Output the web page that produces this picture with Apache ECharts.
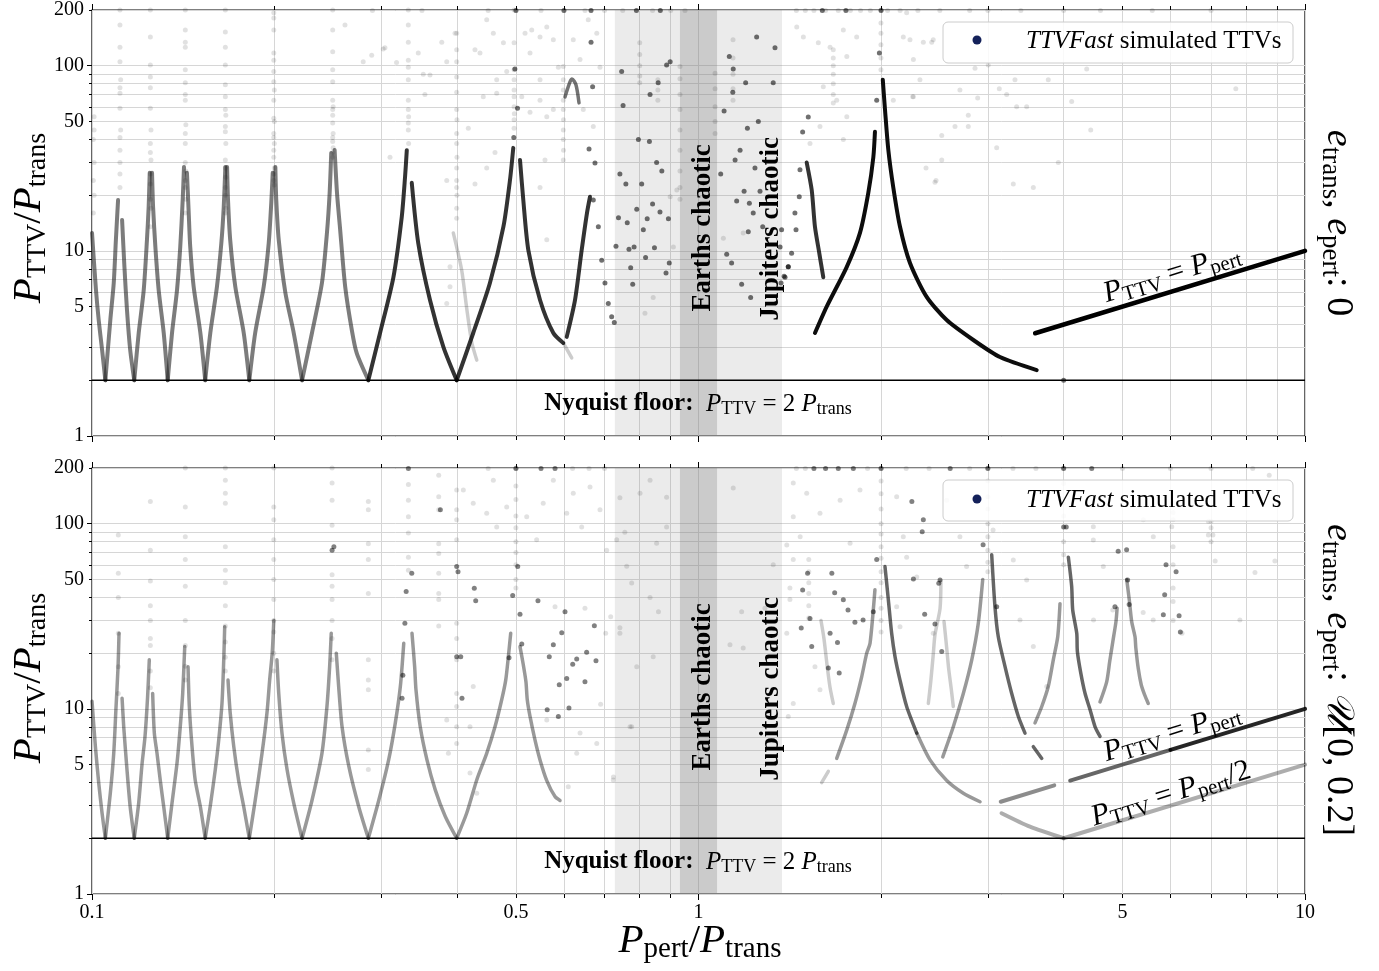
<!DOCTYPE html>
<html><head><meta charset="utf-8">
<script src="https://cdn.jsdelivr.net/npm/echarts@6/dist/echarts.min.js"></script>
<style>html,body{margin:0;padding:0;background:#fff}#c{width:1379px;height:971px}</style>
</head><body><div id="c"></div>
<script>
// ---------- axes ----------
const xTickValues = [0.1,0.2,0.3,0.4,0.5,0.6,0.7,0.8,0.9,1,2,3,4,5,6,7,8,9,10];
const xMajorTicks = [0.1,1,10];
const xLabelValues = [0.1,0.5,1,5,10];
const yTickValues = [1,2,3,4,5,6,7,8,9,10,20,30,40,50,60,70,80,90,100,200];
const yMajorTicks = [1,10,100];
const yLabelValues = [1,5,10,50,100,200];
const nyquistFloor = [[0.1,2],[10,2]];
const chaoticJupiters = [0.728,1.373];
const chaoticEarths = [0.932,1.073];

// ---------- top panel (e = 0) ----------
const topArmsGrey = [
 [[0.1,12.5],[0.1015,6.2],[0.1026,4.2],[0.1039,2.92],[0.1052,2]],
 [[0.1052,2],[0.1072,4.23],[0.1086,6.7],[0.1095,11.5],[0.1104,18.8]],
 [[0.1121,14.7],[0.1131,8.2],[0.1142,4.8],[0.1156,2.92],[0.1174,2]],
 [[0.1174,2],[0.1194,3.6],[0.1217,6.15],[0.1232,11.45],[0.124,17.3],[0.1245,26.4]],
 [[0.1256,26.4],[0.1261,17.3],[0.1272,10.5],[0.1288,6.15],[0.1313,3.6],[0.1333,2]],
 [[0.1333,2],[0.1355,3.6],[0.1381,6.15],[0.1398,10.5],[0.1411,18.8],[0.1418,28.4]],
 [[0.1434,26.4],[0.1443,16.6],[0.1452,10.5],[0.1471,6.4],[0.1509,3.6],[0.1537,2]],
 [[0.1537,2],[0.1567,3.6],[0.1607,6.4],[0.1634,11.0],[0.1649,17.3],[0.1659,28.4]],
 [[0.167,28.4],[0.1676,18.8],[0.169,11.45],[0.1723,6.4],[0.1779,3.6],[0.1817,2]],
 [[0.1817,2],[0.1858,3.6],[0.1919,6.4],[0.1956,11.0],[0.1975,18.1],[0.1986,26.4]],
 [[0.2006,28.4],[0.2013,18.8],[0.2032,11.45],[0.2084,5.92],[0.2151,3.6],[0.222,2]],
 [[0.222,2],[0.2305,3.6],[0.2394,6.7],[0.244,12.5],[0.2465,20.5],[0.248,33.8]],
 [[0.2512,35.1],[0.2535,20.5],[0.2563,13.5],[0.2615,6.4],[0.2683,3.7],[0.2732,2.8],[0.2855,2]]
];
const topArmsDark = [
 [[0.2855,2],[0.2985,3.6],[0.314,7.2],[0.3241,15.2],[0.3282,25],[0.3304,35]],
 [[0.3367,23.3],[0.3451,11.0],[0.3608,5.43],[0.3796,3.03],[0.3993,2]],
 [[0.3993,2],[0.4252,3.6],[0.453,6.7],[0.4768,13.5],[0.4889,24.2],[0.495,36]],
 [[0.5078,31],[0.5142,18.8],[0.5241,10.1],[0.5479,5.43],[0.5763,3.6],[0.5985,3.18]],
 [[0.6064,3.43],[0.6258,5.43],[0.6418,10.1],[0.6548,16],[0.6624,19.6]],
 [[1.508,30],[1.537,21.3],[1.556,13.5],[1.582,9.7],[1.606,7.2]]
];
const topArch = [[0.6024,67.9],[0.6139,81.7],[0.6186,84.9],[0.6281,78.7],[0.6353,63]];
const topArmsPale = [
 [[0.3942,12.5],[0.4069,7.88],[0.4147,4.92],[0.4227,3.22],[0.4309,2.57]],
 [[0.5985,3.18],[0.618,2.64]]
];
const topArmsBlack = [
 [[1.556,3.6],[1.627,5.0],[1.756,8.2],[1.846,12.5],[1.905,20.5],[1.942,32],[1.954,44]],
 [[2.013,84],[2.03,58],[2.056,35],[2.095,22],[2.149,13.5],[2.232,8.6],[2.378,5.64],[2.566,4.23],[2.839,3.3],[3.141,2.67],[3.611,2.27]]
];
const topPertLine = [[3.59,3.59],[10,10]];
const topDark = [
 [0.747,93],[0.751,61],[0.796,40],[0.830,39],[0.742,26],[0.759,23],[0.806,23],[0.853,30],[0.870,27],[0.791,16.8],[0.840,17.9],[0.864,16.2],[0.738,15.1],[0.763,14.2],[0.823,14.9],[0.811,13.0],[0.892,14.9],[0.731,10.6],[0.768,10.2],[0.783,10.5],[0.846,10.4],[0.818,9.2],[0.773,8.1],[0.895,8.6],[0.884,7.6],[0.779,6.6],[0.886,101],[0.898,105],[0.832,70],[0.858,81],
 [1.247,143],[1.337,125],[1.124,112],[1.141,96],[1.196,81],[1.328,81],[1.139,72],[1.102,57],[1.255,50],[1.204,46],[1.171,35],[1.149,31],[1.239,28],[1.088,26],[1.189,21],[1.263,21],[1.156,18.6],[1.213,18.1],[1.231,16],[1.276,13.5],[1.208,12.7],[1.113,9.6],[1.134,8.6],[1.178,6.6],[1.219,5.6],[1.371,13],[1.363,10.5],[1.406,8.2],[1.384,7.3],[1.368,6.7],
 [0.665,134],[0.669,77],[0.660,35.5],[0.675,29.8],[0.498,96],[0.503,59],[0.496,41],
 [1.517,52.9],[1.485,43.9],[1.470,27.4],[1.466,19.6],[1.442,16.0],[1.448,13.0],[1.424,9.7],[1.406,8.2],[1.389,7.2],[1.967,65],[1.987,117],
 [0.6707,18.8],[0.6837,13.5],[0.6925,8.9],[0.7011,6.7],[0.71,5.2],[0.7192,4.4],[0.7264,4.1],
 [4.0,2],[0.5,199],[0.6,199],[0.665,199],[1.6,199],[1.75,199],[2.0,199],[0.79,199],[0.865,199]
];
const topFaint = [
 [0.1008,53],[0.1008,45],[0.1005,40],[0.1008,30],[0.1005,24],[0.1008,20],[0.1005,16],
 [0.1112,200],[0.1112,166],[0.1112,126],[0.1112,105],[0.1115,84],[0.1112,76],[0.1112,71],[0.1112,59],[0.1115,45],[0.1112,41],[0.1112,35],[0.1112,30],[0.1112,26],[0.1112,22],
 [0.1248,200],[0.1248,143],[0.1248,101],[0.1248,87],[0.1248,76],[0.1248,59],[0.1251,45],[0.1248,38],[0.1248,34],[0.1251,31],[0.1248,26],[0.1248,23],[0.1248,19],[0.1251,17],[0.1248,13.5],
 [0.1425,200],[0.1425,156],[0.1425,134],[0.1425,126],[0.1425,95],[0.1425,81],[0.1425,70],[0.1425,65],[0.1428,48],[0.1425,43],[0.1425,38],[0.1425,30],[0.1428,27],[0.1425,24],[0.1425,22],[0.1428,19],[0.1425,16],
 [0.1659,200],[0.1659,152],[0.1659,126],[0.1659,101],[0.1659,79],[0.1659,68],[0.1659,58],[0.1662,54],[0.1659,47],[0.1659,44],[0.1662,38],[0.1659,31],[0.1659,28],[0.1662,25],[0.1659,22],[0.1659,20],[0.1662,17],[0.1659,16],
 [0.1994,193],[0.1994,181],[0.1994,156],[0.1994,117],[0.1994,107],[0.1994,93],[0.1994,82],[0.1998,74],[0.1994,65],[0.1994,52],[0.1998,50],[0.1994,43],[0.1994,41],[0.1998,38],[0.1994,35],[0.1994,32],[0.1998,28],[0.1994,26],[0.1994,24],[0.1998,22.7],
 [0.2494,200],[0.2494,156],[0.2494,119],[0.2494,95],[0.2494,82],[0.2494,65],[0.2498,60],[0.2494,58],[0.2494,54],[0.2494,49],[0.2498,43],[0.2494,41],[0.2494,39],[0.2498,36],[0.2494,34],[0.2494,32],
 [0.3323,200],[0.3323,166],[0.3323,134],[0.3323,107],[0.3323,98],[0.3323,84],[0.3323,65],[0.3323,58],[0.3327,53],[0.3323,49],[0.3323,45],[0.3327,38],
 [0.3993,150],[0.3993,122],[0.3993,105],[0.3993,87],[0.3993,72],[0.3993,58],[0.3997,51],[0.3993,43],[0.3993,38],[0.3997,32],[0.3993,28],[0.3993,24],[0.3993,22],[0.3997,20],[0.3993,17],[0.3993,15],
 [0.4965,200],[0.4965,133],[0.4965,95],[0.4965,84],[0.4965,74],[0.4965,68],[0.4965,60],[0.497,55],[0.4965,51],[0.4965,46],
 [0.5985,99],[0.5985,84],[0.5985,74],[0.5985,65],[0.5985,58],[0.599,51],[0.5985,45],[0.5985,40],[0.599,35],[0.5985,31],
 [1.999,200],[1.999,170],[1.999,150],[1.999,130],[1.999,110],[1.999,95],
 [1.668,122],[1.668,110],[1.668,100],[1.668,90],[1.668,80],[1.668,70],[1.668,63],
 [0.80,133],[0.80,115],[0.80,100],[0.80,88],[0.80,81],[0.857,84],[0.857,74],[0.857,65],[0.932,99],[0.932,85],[0.932,70],[0.932,58],[0.932,45],[0.932,35],[0.932,27],[0.932,22],[0.932,19],[1.065,91],[1.065,75],[1.065,60],[1.065,50],[1.065,43],[1.14,138],[1.14,110],[1.14,90],[1.14,75],[1.14,65],
 [0.842,5.6],[0.816,4.6],[0.909,10.5],[0.898,19.6],[0.921,21.3],[1.099,11.7],[1.185,12.5],
 [0.2613,166],[0.2892,114],[0.3021,123],[0.3178,104],[0.3451,117],[0.3517,90],[0.3608,89],[0.3539,70],[0.3773,134],[0.3845,105],[0.3968,150],[0.4173,46],[0.428,122],[0.4362,117],[0.4475,177],[0.4589,150],[0.4648,84],[0.4417,68],[0.4768,133],[0.4828,93],[0.5176,150],[0.5309,156],[0.5275,117],[0.5479,143],[0.5479,84],[0.5621,162],[0.5763,138],[0.5874,98],[0.5112,68],[0.5275,56],[0.5479,65],[0.5621,53],[0.5763,58],[0.6216,138],[0.6378,108],[0.658,177],[0.6796,150],[0.688,98],[0.6707,47],[0.6457,58],[0.5583,31],[0.5479,22],[0.4618,34],[0.4475,28],[0.428,23],[0.4648,71],[0.5621,11.5],[0.3845,5.2],[0.3893,6.4],[0.31,32],[0.28,105],[0.3041,125],[0.3845,24],[0.3893,8.2],
 [1.452,162],[1.489,143],[1.576,133],[1.648,126],[1.733,156],[1.823,143],[1.756,112],[1.606,77],[1.69,65],[1.756,53],[1.586,47],[1.527,38],[1.733,40],[2.176,143],[2.261,108],[2.438,138],[2.318,84],[2.095,65],[2.261,68],[2.518,42],[2.698,74],[2.648,47],[2.785,54],[2.857,97],[3.102,36],[3.222,70],[3.325,84],[3.346,60],[3.476,60],[3.304,23],[3.565,22],[2.518,31],[2.454,23.5],[2.204,193],[2.255,68],[2.372,28],[2.464,24],[3.92,30],[4.433,45],[4.124,64],[4.366,96],[7.69,75],[3.773,84],[2.886,67],[3.133,75],[3.004,101],[2.232,138],[2.348,134],[2.424,134],[2.785,47],
 [1.45,199],[1.5,199],[1.55,199],[1.62,199],[1.7,199],[1.78,199],[1.85,199],[1.92,199],[2.05,199],[2.15,199],[2.3,199],[2.5,199],[2.8,199],[3.0,199],[3.4,199],[4.0,199],[4.6,199],[5.6,199],[7,199],[0.55,199],[0.65,199],[0.7,199],[0.75,199],[0.84,199],[0.9,199],[0.95,199],[0.45,199],[0.35,199],[0.29,199]
];

// ---------- bottom panel (e ~ U[0,0.2]) ----------
const botArmsGrey = [
 [[0.1,11],[0.1013,6.25],[0.1026,3.96],[0.1039,2.73],[0.1052,2]],
 [[0.1052,2],[0.1072,3.5],[0.1086,5.75],[0.1095,9.9],[0.1104,16.9],[0.1108,25.6]],
 [[0.1121,11.4],[0.1128,8.0],[0.1142,4.7],[0.1156,2.96],[0.1174,2]],
 [[0.1174,2],[0.1194,3.1],[0.1209,5.0],[0.1223,7.1],[0.1235,11.6],[0.1243,18.4]],
 [[0.1259,12.1],[0.1267,7.4],[0.128,5.75],[0.1296,4.1],[0.1313,2.96],[0.1333,2]],
 [[0.1333,2],[0.1355,3.1],[0.1381,5.1],[0.1398,8.0],[0.1411,12.1],[0.1422,21.7]],
 [[0.144,16.9],[0.1447,10.3],[0.1462,6.25],[0.148,4.1],[0.1509,2.96],[0.1537,2]],
 [[0.1537,2],[0.1567,3.0],[0.1597,4.7],[0.1618,6.8],[0.1638,10.7],[0.1649,18.4],[0.1655,27.8]],
 [[0.1676,14.3],[0.169,9.5],[0.1713,6.25],[0.1745,4.1],[0.1779,2.96],[0.1817,2]],
 [[0.1817,2],[0.1858,3.2],[0.1907,5.75],[0.1943,9.5],[0.1963,14.3],[0.1982,20],[0.1994,30]],
 [[0.2018,18.4],[0.2032,12.1],[0.2057,7.4],[0.2097,4.7],[0.2151,3.1],[0.222,2]],
 [[0.222,2],[0.2305,3.2],[0.2394,5.75],[0.244,10.3],[0.2465,16.9],[0.248,25.6]],
 [[0.2528,20],[0.2551,13.2],[0.2584,8.0],[0.2651,4.9],[0.2753,2.96],[0.2855,2]],
 [[0.2855,2],[0.297,3.2],[0.3084,5.3],[0.3163,8.4],[0.3224,13.2],[0.3266,22.6]],
 [[0.337,25.6],[0.3404,16.9],[0.3421,12.7],[0.3477,8.0],[0.3567,5.3],[0.3681,3.65],[0.3824,2.62],[0.3993,2]],
 [[0.3993,2],[0.4147,2.73],[0.4309,4.13],[0.4475,5.75],[0.4618,8.0],[0.4737,11.2],[0.481,14.3],[0.4858,19.1],[0.4902,25.6]],
 [[0.5078,21.7],[0.5142,17.3],[0.5194,14.0],[0.522,11.2],[0.5275,9.1],[0.5375,6.8],[0.5479,5.3],[0.5621,4.1],[0.58,3.36],[0.5911,3.2]],
 [[1.69,5.4],[1.756,7.7],[1.811,10.7],[1.858,14.9],[1.894,20],[1.918,22.6],[1.954,44]],
 [[2.29,7.4],[2.408,5.3],[2.566,4.1],[2.733,3.5],[2.912,3.15]],
 [[2.528,5.5],[2.631,8.0],[2.733,12.1],[2.822,18.4],[2.893,29],[2.942,50]],
 [[3.588,8.4],[3.681,10.3],[3.773,13.2],[3.846,18.4],[3.911,24.5],[3.945,37]],
 [[4.592,10.9],[4.71,14],[4.764,18],[4.82,23],[4.879,29.6],[4.9,35]],
 [[5.082,50],[5.132,38.8],[5.179,29.6],[5.245,24.5],[5.26,21.5],[5.31,16.5],[5.37,13.5],[5.44,11.9],[5.515,10.7]]
];
const botArmsDark = [
 [[2.03,58.7],[2.056,38.8],[2.082,25.6],[2.109,19.1],[2.149,14.3],[2.204,10.3],[2.29,7.4]],
 [[3.044,68],[3.082,35.6],[3.121,24.5],[3.202,16.9],[3.284,12.1],[3.368,9.1],[3.454,7.4]],
 [[3.565,6.25],[3.681,5.4]],
 [[4.072,66],[4.124,45.7],[4.14,34.2],[4.204,25.6],[4.214,20.4],[4.269,15.6],[4.339,12.1],[4.422,9.9],[4.507,8.0],[4.592,7.1]]
];
const botArmsPale = [
 [[1.596,4.0],[1.637,4.6]],
 [[2.393,10.7],[2.415,14],[2.438,19.6],[2.454,25.1],[2.502,34.9],[2.51,48.7]],
 [[2.54,29.6],[2.566,21.3],[2.585,16.5],[2.61,12.9],[2.631,10.3]],
 [[1.592,30],[1.61,24],[1.63,17],[1.648,13],[1.668,10.7]]
];
const botPertLineLow = [[3.15,3.15],[3.86,3.86]];
const botPertLineMid = [[4.1,4.1],[6,6]];
const botPertLineHigh = [[6,6],[10,10]];
const botHalfPertLine = [[4,2],[10,5]];
const botHalfPertLow = [[3.16,2.73],[3.52,2.31],[4,2]];
const botDark = [
 [0.3993,58.7],[0.4013,55],[0.3993,19.1],[0.4055,19.1],[0.4269,44.8],[0.4292,38.4],[0.4939,40.9],[0.5034,58.7],[0.5078,32.4],[0.5112,22.4],[0.4871,18.9],[0.5436,38.4],[0.5763,22.2],[0.5675,19.1],[0.595,25.8],[0.6024,33.5],[0.6498,14.0],[0.5874,9.1],[0.563,9.9],[0.6115,10.1],[0.6734,28.1],
 [0.5894,13.5],[0.6064,14.6],[0.6203,17.4],[0.6298,18.6],[0.654,20.2],[0.6776,18.2],
 [0.2488,72],[0.2505,75],[0.3324,199],[0.3753,119],[0.4074,11.4],
 [0.3245,11.4],[0.3255,15.2],[0.328,29],[0.3296,43],[0.3367,54],
 [1.967,64],[1.942,33.5],[1.868,30.2],[1.811,29.4],[1.764,34.2],[1.733,38.8],[1.677,42.4],[1.648,25.6],[1.695,22.8],[1.527,30.8],[1.477,27.3],[1.537,21.7],[1.637,16.6],[1.706,15.6],[1.659,54],[1.513,54],[1.485,43.9],[2.248,132],[2.348,105],[2.338,90.6],[2.261,50.3],[2.502,49.7],[2.36,32.4],[2.454,28.7],[2.518,20.4],[2.946,76.9],[3.102,35.6],[4.0,96],[4.04,96],[5.13,36.6],[5.1,49.7],[4.92,71],[5.08,72.3],[4.86,35.6],[5.84,32.2],[5.87,41.4],[5.9,60],[6.13,55],[6.2,31.8],[6.23,26],[2.49,47.7],
 [0.5,199],[0.55,199],[0.58,199],[1.55,199],[1.62,199],[1.7,199],[1.8,199],[2.0,199],[2.6,199],[3.0,199],[4.0,199],[4.45,199]
];
const botFaint = [
 [0.1105,87],[0.1105,54],[0.1105,40],[0.1105,25.6],[0.1105,16.9],[0.1105,12.1],
 [0.1248,132],[0.1248,72],[0.1248,49],[0.1248,36],[0.1248,30],[0.1248,24],[0.1248,22],[0.1248,16],[0.1248,13],
 [0.1425,200],[0.1425,123],[0.1425,85],[0.1425,64],[0.1425,46],[0.1425,30],[0.1425,22],[0.1425,17],[0.1425,14.3],
 [0.1659,200],[0.1659,172],[0.1659,146],[0.1659,129],[0.1659,75],[0.1659,56],[0.1659,48],[0.1659,36],[0.1659,28],[0.1659,23],[0.1659,19],[0.1659,16],
 [0.1994,200],[0.1994,123],[0.1994,105],[0.1994,82],[0.1994,64],[0.1994,50],[0.1994,39],[0.1994,30],[0.1994,26],[0.1994,20],[0.1994,16],
 [0.2488,200],[0.2488,166],[0.2488,134],[0.2488,98],[0.2488,53],[0.2488,46],[0.2488,39],[0.2488,30],[0.2488,24],[0.2488,18.4],
 [0.2855,132],[0.2855,119],[0.2855,78],[0.2855,64],[0.2855,42],[0.2855,18.4],[0.2855,14.3],[0.2855,12.7],[0.2855,6.0],[0.2855,4.7],
 [0.3324,163],[0.3324,134],[0.3324,109],[0.3324,89],[0.3324,66],[0.3324,56],
 [0.373,183],[0.373,140],[0.373,119],[0.373,78],[0.373,69],[0.373,54],[0.373,42],[0.373,39],[0.373,28],
 [0.3993,152],[0.3993,119],[0.3993,105],[0.3993,82],[0.3993,29],[0.3993,24],[0.3993,18.4],[0.3993,12.1],[0.3993,10.3],[0.3993,8],[0.3993,6.5],
 [0.5,200],[0.5,160],[0.5,135],[0.5,110],[0.5,95],[0.5,80],[0.5,70],[0.5,60],[0.5,50],[0.5,45],
 [2.0,200],[2.0,170],[2.0,145],[2.0,120],[2.0,100],[2.0,88],[2.0,75],[2.0,65],[2.0,55],[2.0,48],[2.0,40],[2.0,35],[2.0,30],[2.0,26],
 [1.52,64],[1.52,55],[1.52,48],[1.52,42],[1.52,36],[1.52,31],
 [3.0,200],[3.0,170],[3.0,140],[3.0,120],[3.0,100],[3.0,85],[3.0,72],[3.0,62],[3.0,55],
 [4.0,200],[4.0,165],[4.0,130],[4.0,110],[4.0,80],[4.0,68],[4.0,60],
 [7.0,103],[7.0,95],[7.05,87],[7.0,80],
 [6.06,130],[6.06,115],[6.06,105],[6.06,75],[6.06,60],[6.06,45],[6.06,38],[6.06,30],
 [0.4095,152],[0.4252,129],[0.4475,114],[0.4589,172],[0.4648,96],[0.4828,123],[0.5209,109],[0.5409,82],[0.5546,129],[0.5763,172],[0.6064,114],[0.6216,146],[0.6418,96],[0.6624,158],[0.688,119],[0.7057,72],[0.7329,82],[0.7614,59],[0.8009,146],[0.853,78.5],[0.886,96],[0.832,40],[0.791,16.9],[0.7711,8.0],[0.7236,4.13],[0.742,25.6],[0.6796,6.5],[0.6298,5.75],[0.6099,3.8],[0.6378,7.4],[0.5621,8.7],[0.4309,3.5],[0.3845,8.7],[0.3869,5.75],[0.42,4.5],[0.4252,13.2],[0.42,8.0],[0.58,35.6],[0.6498,34.9],[0.7165,31.4],[0.703,25.6],[0.6897,10.6],
 [0.742,138],[0.756,90],[0.776,47.9],[0.832,172],[0.886,139],[0.859,33.5],[0.842,19.1],[0.776,8.0],[0.724,4.29],[0.742,27.4],[1.398,76.8],[1.433,109],[1.415,45],[1.141,156],[1.127,22.2],[1.185,21.3],[1.178,33.5],[1.328,60],[1.287,35],
 [1.433,166],[1.508,146],[1.586,114],[1.712,134],[1.778,78.5],[1.846,152],[1.471,85],[1.433,64],[1.415,39],[1.398,25.6],[1.433,10.7],[1.406,9.1],[1.586,12.7],[1.556,16.9],[2.122,140],[2.176,85],[2.204,66],[2.29,51.5],[2.122,35.6],[2.149,27.8],[2.438,25.6],[2.566,134],[2.698,85],[2.767,58.7],[3.06,92.6],[3.304,63.7],[3.476,49.7],[3.389,30.2],[3.565,21.7],[3.751,13.2],[4.477,96.3],[4.477,81.7],[4.65,58.7],[5.412,105],[5.622,85],[6.03,96.3],[6.27,25.6],[5.62,30.2],[5.41,33.2],[4.48,30.2],[4.82,34.2],[7.81,30.2],[8.92,63],[8.27,54.6],[7.11,63],[6.93,87],[6.93,103],[8.73,183],
 [0.45,199],[0.62,199],[0.66,199],[0.7,199],[1.45,199],[1.5,199],[1.9,199],[2.2,199],[2.4,199],[2.8,199],[3.3,199],[3.6,199],[5.0,199],[6.0,199],[7.0,199],[8.2,199]
];

// ---------- build ----------
const FF = "'Liberation Serif','DejaVu Serif',serif";
const GRID_X = 92, GRID_W = 1213, GRID_H = 426, TOPS = [10, 468];
const fmt = v => String(parseFloat((+v).toPrecision(6)));

function xAxesFor(g, labels) {
  const base = {type:'log', logBase:10, gridIndex:g, min:0.1, max:10, axisLine:{show:false}, splitLine:{show:false}, axisLabel:{show:false}};
  return [
    Object.assign({}, base, {position:'bottom', axisTick:{show:true, customValues:xTickValues, length:4, lineStyle:{color:'#000', width:1}},
      splitLine:{show:true, lineStyle:{color:'#d6d6d6', width:1}},
      axisLabel:{show:labels, customValues:xLabelValues, margin:9, color:'#000', fontFamily:FF, fontSize:20, formatter:fmt}}),
    Object.assign({}, base, {position:'bottom', axisTick:{show:true, customValues:xMajorTicks, length:6, lineStyle:{color:'#000', width:1}}}),
    Object.assign({}, base, {position:'top', axisTick:{show:true, customValues:xTickValues, length:4, lineStyle:{color:'#000', width:1}}}),
    Object.assign({}, base, {position:'top', axisTick:{show:true, customValues:xMajorTicks, length:6, lineStyle:{color:'#000', width:1}}})
  ];
}
function yAxesFor(g) {
  const base = {type:'log', logBase:10, gridIndex:g, min:1, max:200, position:'left', axisLine:{show:false}, splitLine:{show:false}, axisLabel:{show:false}};
  return [
    Object.assign({}, base, {axisTick:{show:true, customValues:yTickValues, length:3, lineStyle:{color:'#000'}},
      splitLine:{show:true, lineStyle:{color:'#d6d6d6', width:1}},
      axisLabel:{show:true, customValues:yLabelValues, margin:8, color:'#000', fontFamily:FF, fontSize:20, formatter:fmt}}),
    Object.assign({}, base, {axisTick:{show:true, customValues:yMajorTicks, length:5, lineStyle:{color:'#000'}}})
  ];
}

const series = [];
function armSeries(arms, color, width, xi, yi, z) {
  arms.forEach(a => series.push({type:'line', xAxisIndex:xi, yAxisIndex:yi, data:a, smooth:0.25,
    symbol:'none', silent:true, z:z, lineStyle:{color:color, width:width, cap:'round', join:'round'}}));
}
function dots(data, color, xi, yi, z, size) {
  series.push({type:'scatter', xAxisIndex:xi, yAxisIndex:yi, data:data, symbolSize:size||5, silent:true, z:z,
    itemStyle:{color:color}});
}
[0,1].forEach(p => {
  const xi = p*4, yi = p*2;
  series.push({type:'line', xAxisIndex:xi, yAxisIndex:yi, data:[], silent:true, z:1,
    markArea:{silent:true, data:[
      [{xAxis:chaoticJupiters[0], itemStyle:{color:'rgba(128,128,128,0.16)'}},{xAxis:chaoticJupiters[1]}],
      [{xAxis:chaoticEarths[0], itemStyle:{color:'rgba(128,128,128,0.3)'}},{xAxis:chaoticEarths[1]}]]}});
  series.push({type:'line', xAxisIndex:xi, yAxisIndex:yi, data:nyquistFloor, symbol:'none', silent:true, z:6,
    lineStyle:{color:'#000', width:1.6}});
});
// top
dots(topFaint, 'rgba(0,0,0,0.15)', 0, 0, 2);
armSeries(topArmsPale, 'rgba(0,0,0,0.2)', 3.5, 0, 0, 3);
armSeries(topArmsGrey, 'rgba(30,30,30,0.58)', 4, 0, 0, 3);
armSeries(topArmsDark, 'rgba(0,0,0,0.8)', 4, 0, 0, 3);
armSeries([topArch], 'rgba(0,0,0,0.55)', 3.5, 0, 0, 3);
armSeries(topArmsBlack, 'rgba(0,0,0,0.95)', 4, 0, 0, 4);
armSeries([topPertLine], '#000', 4.5, 0, 0, 4);
dots(topDark, 'rgba(0,0,0,0.7)', 0, 0, 5);
// bottom
dots(botFaint, 'rgba(0,0,0,0.15)', 4, 2, 2);
armSeries(botArmsPale, 'rgba(0,0,0,0.2)', 3.5, 4, 2, 3);
armSeries(botArmsGrey, 'rgba(0,0,0,0.4)', 3.5, 4, 2, 3);
armSeries(botArmsDark, 'rgba(0,0,0,0.6)', 3.5, 4, 2, 3);
armSeries([botPertLineLow], 'rgba(0,0,0,0.45)', 4, 4, 2, 4);
armSeries([botPertLineMid], 'rgba(0,0,0,0.6)', 4, 4, 2, 4);
armSeries([botPertLineHigh], 'rgba(0,0,0,0.85)', 4, 4, 2, 4);
armSeries([botHalfPertLine, botHalfPertLow], 'rgba(0,0,0,0.32)', 4, 4, 2, 4);
dots(botDark, 'rgba(0,0,0,0.62)', 4, 2, 5);

// ---------- text ----------
function rs(size, extra) { return Object.assign({fontFamily:FF, fontSize:size, fill:'#000', color:'#000'}, extra||{}); }
function mathRich(big, small) {
  return {
    m: rs(big, {fontStyle:'italic', lineHeight:big+4}),
    n: rs(big, {lineHeight:big+4}),
    s: rs(small, {verticalAlign:'bottom', lineHeight:Math.round(small*0.72)}),
    b: rs(big, {fontWeight:'bold', lineHeight:big+4}),
    i: rs(big, {fontStyle:'italic', lineHeight:big+4})
  };
}
function txt(x, y, rot, text, rich, align) {
  return {type:'text', x:x, y:y, rotation:rot, z:100, silent:true,
    style:{text:text, rich:rich, align:align||'center', verticalAlign:'middle', fontFamily:FF, fill:'#000'}};
}
const graphics = [];
const yTitle = '{m|P}{s|TTV}{n|/}{m|P}{s|trans}';
graphics.push(txt(29, 218, Math.PI/2, yTitle, mathRich(41, 28)));
graphics.push(txt(29, 678, Math.PI/2, yTitle, mathRich(41, 28)));
graphics.push(txt(700, 941, 0, '{m|P}{s|pert}{n|/}{m|P}{s|trans}', mathRich(41, 29)));
graphics.push(txt(1338, 223, -Math.PI/2, '{m|e}{s|trans}{n|, }{m|e}{s|pert}{n|: 0}', mathRich(38, 27)));
graphics.push(txt(1338, 680, -Math.PI/2, '{m|e}{s|trans}{n|, }{m|e}{s|pert}{n|: }{m|𝒰}{n|[0, 0.2]}', mathRich(38, 27)));
const nyq = '{b|Nyquist floor:}{n|  }{m|P}{s|TTV}{n| = 2 }{m|P}{s|trans}';
graphics.push(txt(698, 404, 0, nyq, mathRich(25, 18)));
graphics.push(txt(698, 862, 0, nyq, mathRich(25, 18)));
const boldStyle = {fontFamily:FF, fontWeight:'bold', fontSize:27, fill:'#000'};
[[703,228,'Earths chaotic'],[771,229,'Jupiters chaotic'],[703,687,'Earths chaotic'],[771,689,'Jupiters chaotic']].forEach(t => {
  graphics.push({type:'text', x:t[0], y:t[1], rotation:Math.PI/2, z:100, silent:true,
    style:Object.assign({text:t[2], align:'center', verticalAlign:'middle'}, boldStyle)});
});
const ang = Math.atan(185.1/606.5);
graphics.push(txt(1172, 274, ang, '{m|P}{s|TTV}{n| = }{m|P}{s|pert}', mathRich(30, 21)));
graphics.push(txt(1172, 733, ang, '{m|P}{s|TTV}{n| = }{m|P}{s|pert}', mathRich(30, 21)));
graphics.push(txt(1171, 794, ang, '{m|P}{s|TTV}{n| = }{m|P}{s|pert}{n|/2}', mathRich(30, 21)));
// legends
[[22, 41], [480, 500]].forEach(l => {
  graphics.push({type:'rect', x:943, y:l[0], z:90, silent:true, shape:{width:350, height:41, r:5},
    style:{fill:'rgba(255,255,255,0.85)', stroke:'#cccccc', lineWidth:1}});
  graphics.push({type:'circle', x:977, y:l[1]-1, z:91, silent:true, shape:{r:4.5}, style:{fill:'#14215a'}});
  graphics.push(txt(1026, l[1], 0, '{i|TTVFast}{n| simulated TTVs}', mathRich(25, 16), 'left'));
});

const chart = echarts.init(document.getElementById('c'), null, {renderer:'canvas'});
chart.setOption({
  animation:false,
  backgroundColor:'#fff',
  grid: TOPS.map(t => ({left:GRID_X, top:t, width:GRID_W, height:GRID_H, show:true, borderColor:'#000', borderWidth:1.2, backgroundColor:'rgba(0,0,0,0)', containLabel:false})),
  xAxis: xAxesFor(0, false).concat(xAxesFor(1, true)),
  yAxis: yAxesFor(0).concat(yAxesFor(1)),
  series: series,
  graphic: graphics
});
</script>
</body></html>
